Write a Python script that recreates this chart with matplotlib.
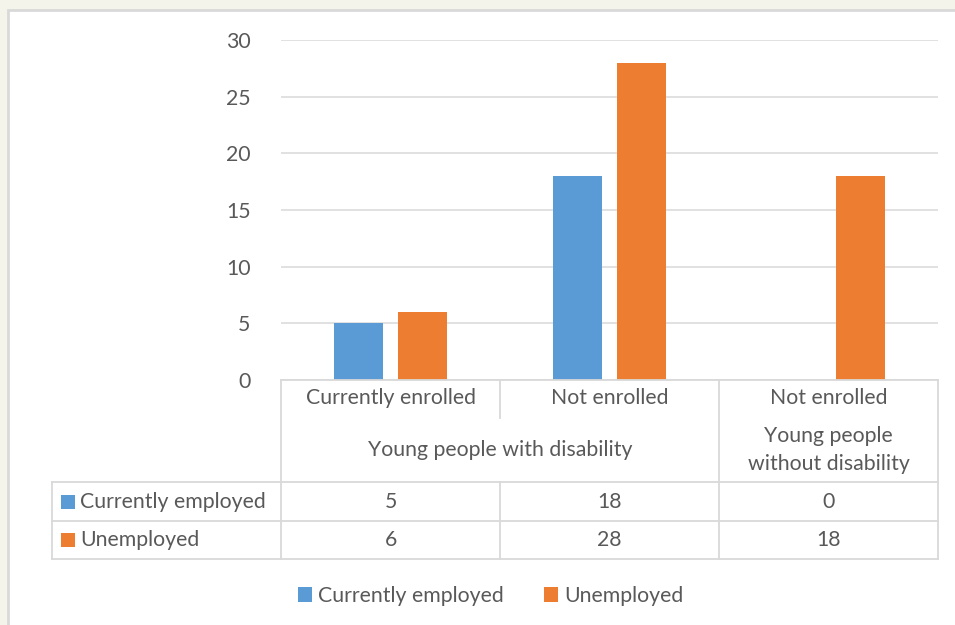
import matplotlib
matplotlib.use("Agg")
import matplotlib.pyplot as plt
from matplotlib.patches import Rectangle
from matplotlib.lines import Line2D

categories = ["Currently enrolled", "Not enrolled", "Not enrolled"]
groups = ["Young people with disability", "Young people\nwithout disability"]
group_spans = [(0, 1), (2, 2)]
series_names = ["Currently employed", "Unemployed"]
employed = [5, 18, 0]
unemployed = [6, 28, 18]
colors = ["#5b9bd5", "#ed7d31"]
yticks = [0, 5, 10, 15, 20, 25, 30]

W, H = 955, 625
TXT = "#595959"
GRID = "#d9d9d9"
plt.rcParams["font.family"] = ["Lato", "DejaVu Sans"]
FS = 15.3

fig = plt.figure(figsize=(W / 100, H / 100), dpi=100)
fig.patch.set_facecolor("#f4f4ea")


def fx(px):
    return px / W


def fy(py):
    return 1 - py / H


def hline(x0, x1, y, **kw):
    fig.add_artist(Line2D([fx(x0), fx(x1)], [fy(y), fy(y)], color=GRID, lw=1.3, **kw))


def vline(x, y0, y1, **kw):
    fig.add_artist(Line2D([fx(x), fx(x)], [fy(y0), fy(y1)], color=GRID, lw=1.3, **kw))


# white chart panel
fig.add_artist(Rectangle((fx(8), fy(H + 20)), 1.2, fy(10) - fy(H + 20),
                         facecolor="white", edgecolor=GRID, lw=2, zorder=0))

left, right, top, bottom = 281, 938, 40, 380
ax = fig.add_axes([fx(left), fy(bottom), fx(right - left), fy(top) - fy(bottom)])
ax.set_facecolor("none")

x = range(len(categories))
bw, off = 0.224, 0.144
ax.bar([i - off for i in x], employed, width=bw, color=colors[0], zorder=3)
ax.bar([i + off for i in x], unemployed, width=bw, color=colors[1], zorder=3)

ax.set_xlim(-0.5, len(categories) - 0.5)
ax.set_ylim(0, 30)
ax.set_yticks(yticks)
ax.set_yticklabels([str(t) for t in yticks], fontsize=FS, color=TXT)
ax.tick_params(axis="y", length=0, pad=22)
ax.set_xticks([])
ax.grid(axis="y", color=GRID, lw=1.1, zorder=0)
for s in ax.spines.values():
    s.set_visible(False)

# data table below the plot
col_w = (right - left) / len(categories)
cols = [left + col_w * i for i in range(len(categories) + 1)]
r_cat, r_grp, r_emp, r_unemp, r_end = 380, 418, 482, 521, 559
tab_left = 52

hline(left, right, r_cat)
for y in (r_emp, r_unemp, r_end):
    hline(tab_left, right, y)
vline(tab_left, r_emp, r_end)
for i, cx in enumerate(cols):
    if any(a < i <= b for a, b in group_spans):
        # inner border of a merged group cell: only the category row is split
        vline(cx, r_cat, r_grp)
        vline(cx, r_emp, r_end)
    else:
        vline(cx, r_cat, r_end)

for i, c in enumerate(categories):
    fig.text(fx(cols[i] + col_w / 2), fy((r_cat + r_grp) / 2 - 1), c,
             ha="center", va="center", fontsize=FS, color=TXT)
for g, (a, b) in zip(groups, group_spans):
    fig.text(fx((cols[a] + cols[b + 1]) / 2), fy((r_grp + r_emp) / 2), g,
             ha="center", va="center", fontsize=FS, color=TXT, linespacing=1.45)

for name, vals, col, (y0, y1) in zip(series_names, [employed, unemployed], colors,
                                     [(r_emp, r_unemp), (r_unemp, r_end)]):
    yc = (y0 + y1) / 2
    fig.add_artist(Rectangle((fx(61), fy(yc + 7)), fx(14), fy(yc - 7) - fy(yc + 7),
                             facecolor=col, edgecolor="none"))
    fig.text(fx(80), fy(yc), name, ha="left", va="center", fontsize=FS, color=TXT)
    for i, v in enumerate(vals):
        fig.text(fx(cols[i] + col_w / 2), fy(yc), str(v),
                 ha="center", va="center", fontsize=FS, color=TXT)

# legend
handles = [Rectangle((0, 0), 1, 1, facecolor=c) for c in colors]
fig.legend(handles, series_names, loc="center", bbox_to_anchor=(fx(491), fy(596)),
           ncol=2, frameon=False, fontsize=FS, labelcolor=TXT,
           handlelength=0.65, handleheight=0.65, handletextpad=0.3, columnspacing=1.9)

fig.savefig("out.png", dpi=100, facecolor=fig.get_facecolor())
